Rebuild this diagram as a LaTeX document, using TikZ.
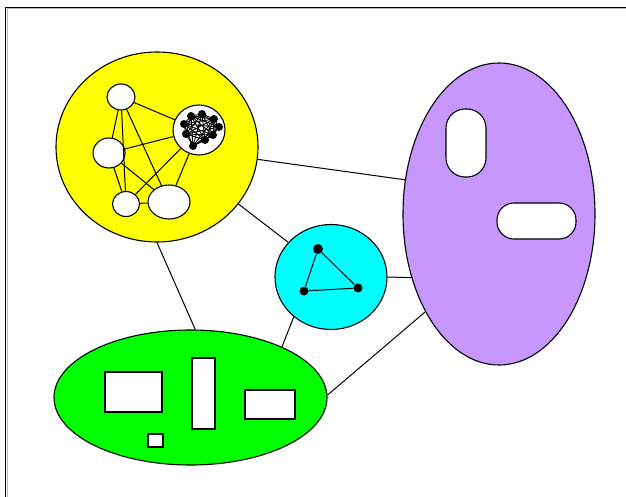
\documentclass[tikz,border=0pt]{standalone}
\usetikzlibrary{shapes.geometric}
\definecolor{ylw}{RGB}{255,255,0}
\definecolor{cyn}{RGB}{0,255,255}
\definecolor{grn}{RGB}{0,255,0}
\definecolor{prp}{RGB}{200,150,255}
\begin{document}
\begin{tikzpicture}[x=1pt,y=-1pt,line width=1.1pt,
  blob/.style={ellipse,draw=black,inner sep=0pt},
  hole/.style={ellipse,draw=black,fill=white,inner sep=0pt},
  box/.style={rectangle,draw=black,fill=white,inner sep=0pt},
  dot/.style={circle,fill=black,inner sep=0pt,minimum size=#1},
  link/.style={draw=black,line width=1pt}]
\useasboundingbox (0,0) rectangle (626,497);
\fill[white] (0,0) rectangle (626,497);
% frame
\draw[gray!55,line width=1pt] (7,497) -- (7,9) -- (626,9);
\draw[black,line width=1.3pt] (5.5,497) -- (5.5,7.5) -- (626,7.5);

% main shapes
\node[blob,fill=ylw,minimum width=202pt,minimum height=190pt] (Y) at (157,147) {};
\node[blob,fill=cyn,minimum width=112pt,minimum height=105pt] (C) at (331,277) {};
\node[blob,fill=prp,minimum width=192pt,minimum height=302pt] (P) at (499,214) {};
\node[blob,fill=grn,minimum width=273pt,minimum height=135pt] (G) at (190.5,397.5) {};

% connectors
\draw[link] (Y.-7.5) -- (P.160.5);
\draw[link] (Y.-35) -- (C.141.5);
\draw[link] (Y.-90) -- (G.86);
\draw[link] (C.-133.6) -- (G.29.9);
\draw[link] (C.0) -- (P.-144.7);
\draw[link] (G.1) -- (P.-127.8);

% yellow interior
\node[hole,minimum width=28pt,minimum height=26pt] (a) at (121,97) {};
\node[hole,minimum width=32pt,minimum height=30pt] (b) at (109,153) {};
\node[hole,minimum width=27pt,minimum height=25pt] (c) at (126,204) {};
\node[hole,minimum width=42pt,minimum height=34pt] (d) at (169,202) {};
\node[hole,minimum width=52pt,minimum height=50pt] (e) at (199,130) {};
\foreach \u/\v in {a/b,a/c,a/d,a/e,b/c,b/d,b/e,c/d,c/e,d/e}
  \draw[link] (\u) -- (\v);

% dense clique inside e
\foreach \n/\px/\py in {1/191/116,2/202/114,3/214/119,4/219/127,5/213/135,6/205/140,7/193/146,8/186/134,9/184/124}
  \node[dot=8pt] (k\n) at (\px,\py) {};
\foreach \i in {1,...,9}{
  \foreach \j in {1,...,9}{
    \ifnum\i<\j \draw[black,line width=0.9pt] (k\i.center) -- (k\j.center); \fi
  }
}

% cyan triangle
\node[dot=10pt] (t1) at (318,249) {};
\node[dot=9pt] (t2) at (304,291) {};
\node[dot=9pt] (t3) at (358,288) {};
\draw[link] (t1) -- (t2) -- (t3) -- (t1);

% purple holes
\node[box,rounded corners=19pt,minimum width=40pt,minimum height=68pt] (r1) at (466,143) {};
\node[box,rounded corners=17pt,minimum width=79pt,minimum height=36pt] (r2) at (536.5,221) {};

% green holes
\node[box,minimum width=57pt,minimum height=40pt] (s1) at (133.5,392) {};
\node[box,minimum width=23pt,minimum height=71pt] (s2) at (203.5,393.5) {};
\node[box,minimum width=50pt,minimum height=29pt] (s3) at (270,404.5) {};
\node[box,minimum width=15pt,minimum height=13pt] (s4) at (155.5,440.5) {};
\end{tikzpicture}
\end{document}
